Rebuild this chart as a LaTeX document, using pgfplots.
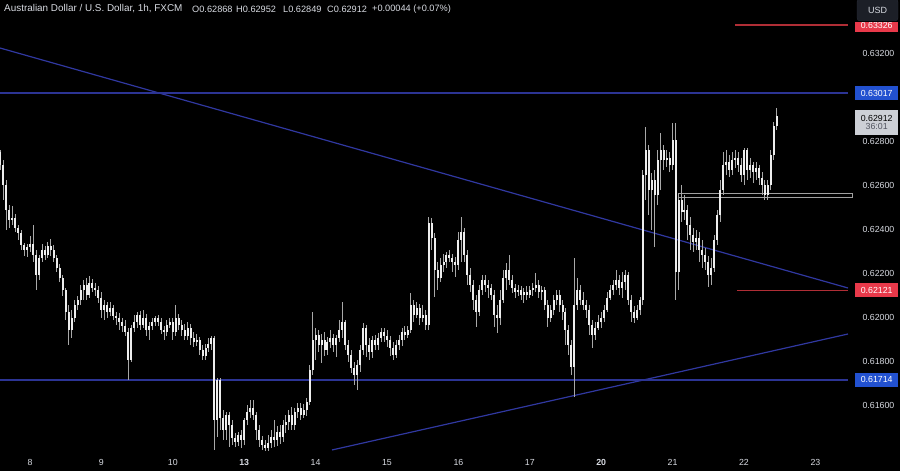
\documentclass[border=0pt]{standalone}
\usepackage{fontspec}
\setmainfont{Liberation Sans}
\usepackage{pgfplots}
\usepackage{pgfplotstable}
\pgfplotsset{compat=1.18}
\definecolor{bg}{HTML}{000000}
\definecolor{txt}{HTML}{D8DBE2}
\definecolor{lineblue}{HTML}{3038A0}
\definecolor{hlineblue}{HTML}{2C3494}
\definecolor{lblblue}{HTML}{2251D0}
\definecolor{linered}{HTML}{B02E36}
\definecolor{lblred}{HTML}{E8394A}
\definecolor{wickc}{HTML}{A8A8A8}
\definecolor{bodyc}{HTML}{EDEDED}
\definecolor{zone}{HTML}{A0A0A0}
\definecolor{curlbl}{HTML}{CDD0D6}
\definecolor{usdbox}{HTML}{1C1F27}
\definecolor{usdborder}{HTML}{2A2E39}
\definecolor{cdtxt}{HTML}{50535E}
\pgfplotstableread{
i o h l c
-10 0.62750 0.62759 0.62668 0.62691
-9 0.62691 0.62714 0.62532 0.62600
-8 0.62600 0.62623 0.62396 0.62487
-7 0.62487 0.62509 0.62405 0.62441
-6 0.62441 0.62505 0.62418 0.62450
-5 0.62450 0.62468 0.62387 0.62405
-4 0.62405 0.62418 0.62350 0.62382
-3 0.62382 0.62396 0.62305 0.62327
-2 0.62327 0.62337 0.62277 0.62305
-1 0.62305 0.62332 0.62273 0.62318
0 0.62318 0.62368 0.62296 0.62332
1 0.62332 0.62418 0.62250 0.62282
2 0.62282 0.62305 0.62123 0.62191
3 0.62191 0.62282 0.62168 0.62268
4 0.62268 0.62332 0.62250 0.62305
5 0.62305 0.62323 0.62259 0.62282
6 0.62282 0.62341 0.62268 0.62323
7 0.62323 0.62355 0.62277 0.62305
8 0.62305 0.62327 0.62250 0.62268
9 0.62268 0.62282 0.62205 0.62223
10 0.62223 0.62241 0.62159 0.62177
11 0.62177 0.62191 0.62096 0.62123
12 0.62123 0.62132 0.61987 0.62023
13 0.62023 0.62055 0.61873 0.61941
14 0.61941 0.62032 0.61905 0.61996
15 0.61996 0.62078 0.61977 0.62055
16 0.62055 0.62096 0.62032 0.62078
17 0.62078 0.62146 0.62055 0.62123
18 0.62123 0.62168 0.62078 0.62146
19 0.62146 0.62177 0.62078 0.62100
20 0.62100 0.62187 0.62087 0.62155
21 0.62155 0.62173 0.62114 0.62132
22 0.62132 0.62155 0.62096 0.62123
23 0.62123 0.62141 0.62064 0.62087
24 0.62087 0.62114 0.61996 0.62032
25 0.62032 0.62078 0.61987 0.62055
26 0.62055 0.62068 0.61996 0.62023
27 0.62023 0.62068 0.62005 0.62041
28 0.62041 0.62055 0.61987 0.62005
29 0.62005 0.62023 0.61964 0.61996
30 0.61996 0.62018 0.61941 0.61977
31 0.61977 0.61996 0.61932 0.61959
32 0.61959 0.61987 0.61914 0.61932
33 0.61932 0.61950 0.61714 0.61805
34 0.61805 0.61964 0.61796 0.61950
35 0.61950 0.62009 0.61932 0.61977
36 0.61977 0.62023 0.61950 0.62009
37 0.62009 0.62028 0.61941 0.61964
38 0.61964 0.62032 0.61950 0.61996
39 0.61996 0.62014 0.61914 0.61941
40 0.61941 0.61977 0.61896 0.61959
41 0.61959 0.61996 0.61941 0.61977
42 0.61977 0.62005 0.61959 0.61996
43 0.61996 0.62009 0.61959 0.61977
44 0.61977 0.61996 0.61923 0.61941
45 0.61941 0.61959 0.61896 0.61932
46 0.61932 0.61987 0.61914 0.61964
47 0.61964 0.61996 0.61950 0.61977
48 0.61977 0.61996 0.61896 0.61932
49 0.61932 0.62055 0.61914 0.61996
50 0.61996 0.62014 0.61941 0.61964
51 0.61964 0.61987 0.61914 0.61941
52 0.61941 0.61968 0.61896 0.61914
53 0.61914 0.61977 0.61896 0.61950
54 0.61950 0.61968 0.61873 0.61905
55 0.61905 0.61932 0.61864 0.61887
56 0.61887 0.61923 0.61868 0.61896
57 0.61896 0.61909 0.61828 0.61850
58 0.61850 0.61873 0.61805 0.61823
59 0.61823 0.61877 0.61805 0.61859
60 0.61859 0.61905 0.61841 0.61877
61 0.61877 0.61914 0.61850 0.61905
62 0.61905 0.61914 0.61396 0.61532
63 0.61532 0.61723 0.61455 0.61714
64 0.61714 0.61723 0.61487 0.61541
65 0.61541 0.61577 0.61441 0.61487
66 0.61487 0.61568 0.61441 0.61555
67 0.61555 0.61568 0.61409 0.61509
68 0.61509 0.61532 0.61418 0.61450
69 0.61450 0.61473 0.61409 0.61432
70 0.61432 0.61477 0.61414 0.61464
71 0.61464 0.61487 0.61405 0.61441
72 0.61441 0.61541 0.61418 0.61532
73 0.61532 0.61600 0.61509 0.61568
74 0.61568 0.61623 0.61541 0.61587
75 0.61587 0.61623 0.61532 0.61555
76 0.61555 0.61568 0.61441 0.61487
77 0.61487 0.61509 0.61409 0.61441
78 0.61441 0.61459 0.61396 0.61418
79 0.61418 0.61441 0.61391 0.61405
80 0.61405 0.61464 0.61391 0.61427
81 0.61427 0.61487 0.61405 0.61455
82 0.61455 0.61532 0.61409 0.61441
83 0.61441 0.61505 0.61414 0.61477
84 0.61477 0.61509 0.61423 0.61455
85 0.61455 0.61532 0.61432 0.61509
86 0.61509 0.61555 0.61473 0.61523
87 0.61523 0.61577 0.61487 0.61555
88 0.61555 0.61591 0.61487 0.61509
89 0.61509 0.61587 0.61487 0.61568
90 0.61568 0.61609 0.61541 0.61587
91 0.61587 0.61609 0.61532 0.61555
92 0.61555 0.61605 0.61541 0.61577
93 0.61577 0.61632 0.61550 0.61614
94 0.61614 0.61782 0.61600 0.61759
95 0.61759 0.62023 0.61737 0.61896
96 0.61896 0.61950 0.61805 0.61918
97 0.61918 0.61941 0.61841 0.61873
98 0.61873 0.61923 0.61791 0.61896
99 0.61896 0.61932 0.61823 0.61850
100 0.61850 0.61909 0.61828 0.61887
101 0.61887 0.61941 0.61859 0.61905
102 0.61905 0.61923 0.61841 0.61873
103 0.61873 0.61918 0.61818 0.61905
104 0.61905 0.61987 0.61887 0.61941
105 0.61941 0.62068 0.61905 0.61977
106 0.61977 0.61987 0.61850 0.61873
107 0.61873 0.61896 0.61796 0.61828
108 0.61828 0.61850 0.61746 0.61768
109 0.61768 0.61796 0.61691 0.61737
110 0.61737 0.61805 0.61668 0.61782
111 0.61782 0.61873 0.61750 0.61850
112 0.61850 0.61973 0.61828 0.61950
113 0.61950 0.61964 0.61818 0.61873
114 0.61873 0.61905 0.61805 0.61841
115 0.61841 0.61914 0.61814 0.61896
116 0.61896 0.61918 0.61850 0.61873
117 0.61873 0.61927 0.61850 0.61905
118 0.61905 0.61950 0.61887 0.61932
119 0.61932 0.61950 0.61887 0.61914
120 0.61914 0.61941 0.61864 0.61896
121 0.61896 0.61914 0.61823 0.61859
122 0.61859 0.61887 0.61805 0.61828
123 0.61828 0.61896 0.61814 0.61873
124 0.61873 0.61918 0.61850 0.61896
125 0.61896 0.61950 0.61868 0.61932
126 0.61932 0.61959 0.61896 0.61918
127 0.61918 0.61959 0.61905 0.61941
128 0.61941 0.62109 0.61927 0.62055
129 0.62055 0.62078 0.61977 0.62009
130 0.62009 0.62068 0.61996 0.62041
131 0.62041 0.62059 0.61964 0.61996
132 0.61996 0.62055 0.61977 0.62009
133 0.62009 0.62032 0.61941 0.61964
134 0.61964 0.62455 0.61941 0.62427
135 0.62427 0.62450 0.62305 0.62359
136 0.62359 0.62382 0.62091 0.62214
137 0.62214 0.62250 0.62123 0.62177
138 0.62177 0.62268 0.62159 0.62237
139 0.62237 0.62287 0.62205 0.62250
140 0.62250 0.62296 0.62223 0.62282
141 0.62282 0.62305 0.62250 0.62268
142 0.62268 0.62287 0.62205 0.62250
143 0.62250 0.62273 0.62182 0.62237
144 0.62237 0.62387 0.62214 0.62350
145 0.62350 0.62455 0.62250 0.62387
146 0.62387 0.62405 0.62250 0.62282
147 0.62282 0.62305 0.62146 0.62191
148 0.62191 0.62223 0.62114 0.62146
149 0.62146 0.62168 0.62032 0.62078
150 0.62078 0.62100 0.61955 0.62023
151 0.62023 0.62146 0.62005 0.62123
152 0.62123 0.62191 0.62100 0.62168
153 0.62168 0.62191 0.62114 0.62146
154 0.62146 0.62168 0.62087 0.62132
155 0.62132 0.62150 0.62078 0.62100
156 0.62100 0.62123 0.61955 0.62009
157 0.62009 0.62055 0.61927 0.61996
158 0.61996 0.62123 0.61964 0.62078
159 0.62078 0.62214 0.62064 0.62177
160 0.62177 0.62246 0.62123 0.62214
161 0.62214 0.62282 0.62146 0.62168
162 0.62168 0.62191 0.62109 0.62132
163 0.62132 0.62150 0.62087 0.62114
164 0.62114 0.62146 0.62096 0.62123
165 0.62123 0.62141 0.62078 0.62100
166 0.62100 0.62132 0.62064 0.62114
167 0.62114 0.62141 0.62078 0.62100
168 0.62100 0.62141 0.62087 0.62123
169 0.62123 0.62155 0.62096 0.62132
170 0.62132 0.62200 0.62114 0.62146
171 0.62146 0.62168 0.62087 0.62114
172 0.62114 0.62141 0.62078 0.62123
173 0.62123 0.62137 0.62032 0.62055
174 0.62055 0.62078 0.61955 0.61996
175 0.61996 0.62055 0.61977 0.62032
176 0.62032 0.62100 0.62009 0.62078
177 0.62078 0.62123 0.62055 0.62100
178 0.62100 0.62123 0.62023 0.62055
179 0.62055 0.62078 0.61987 0.62023
180 0.62023 0.62041 0.61873 0.61941
181 0.61941 0.61964 0.61828 0.61873
182 0.61873 0.61896 0.61737 0.61773
183 0.61773 0.62268 0.61637 0.62055
184 0.62055 0.62177 0.62032 0.62123
185 0.62123 0.62146 0.62055 0.62078
186 0.62078 0.62114 0.62032 0.62055
187 0.62055 0.62078 0.61996 0.62032
188 0.62032 0.62055 0.61918 0.61964
189 0.61964 0.61987 0.61859 0.61918
190 0.61918 0.61977 0.61896 0.61950
191 0.61950 0.62009 0.61941 0.61977
192 0.61977 0.62023 0.61950 0.61996
193 0.61996 0.62055 0.61977 0.62032
194 0.62032 0.62114 0.62023 0.62087
195 0.62087 0.62146 0.62078 0.62123
196 0.62123 0.62168 0.62100 0.62146
197 0.62146 0.62214 0.62123 0.62168
198 0.62168 0.62191 0.62100 0.62132
199 0.62132 0.62205 0.62087 0.62159
200 0.62159 0.62214 0.62123 0.62191
201 0.62191 0.62205 0.62055 0.62078
202 0.62078 0.62100 0.61977 0.62023
203 0.62023 0.62050 0.61973 0.61996
204 0.61996 0.62055 0.61987 0.62032
205 0.62032 0.62091 0.62009 0.62078
206 0.62078 0.62668 0.62055 0.62646
207 0.62646 0.62864 0.62532 0.62759
208 0.62759 0.62782 0.62464 0.62577
209 0.62577 0.62655 0.62396 0.62623
210 0.62623 0.62668 0.62318 0.62555
211 0.62555 0.62759 0.62509 0.62714
212 0.62714 0.62837 0.62577 0.62759
213 0.62759 0.62782 0.62668 0.62714
214 0.62714 0.62759 0.62682 0.62723
215 0.62723 0.62750 0.62659 0.62691
216 0.62691 0.62882 0.62668 0.62805
217 0.62805 0.62882 0.62078 0.62205
218 0.62205 0.62564 0.62123 0.62532
219 0.62532 0.62600 0.62432 0.62477
220 0.62477 0.62555 0.62441 0.62487
221 0.62487 0.62509 0.62350 0.62418
222 0.62418 0.62455 0.62305 0.62373
223 0.62373 0.62405 0.62296 0.62341
224 0.62341 0.62396 0.62305 0.62359
225 0.62359 0.62387 0.62250 0.62305
226 0.62305 0.62350 0.62223 0.62282
227 0.62282 0.62314 0.62214 0.62250
228 0.62250 0.62277 0.62137 0.62191
229 0.62191 0.62268 0.62146 0.62223
230 0.62223 0.62373 0.62205 0.62350
231 0.62350 0.62487 0.62327 0.62464
232 0.62464 0.62623 0.62432 0.62577
233 0.62577 0.62750 0.62555 0.62691
234 0.62691 0.62759 0.62646 0.62705
235 0.62705 0.62737 0.62637 0.62668
236 0.62668 0.62750 0.62646 0.62714
237 0.62714 0.62759 0.62677 0.62723
238 0.62723 0.62750 0.62659 0.62691
239 0.62691 0.62723 0.62614 0.62646
240 0.62646 0.62768 0.62600 0.62759
241 0.62759 0.62768 0.62623 0.62668
242 0.62668 0.62723 0.62632 0.62691
243 0.62691 0.62705 0.62609 0.62659
244 0.62659 0.62705 0.62623 0.62677
245 0.62677 0.62691 0.62600 0.62632
246 0.62632 0.62659 0.62555 0.62600
247 0.62600 0.62623 0.62532 0.62555
248 0.62555 0.62623 0.62532 0.62600
249 0.62600 0.62759 0.62577 0.62737
250 0.62737 0.62886 0.62714 0.62868
251 0.62868 0.62952 0.62849 0.62912
}\candles
\begin{document}
\begin{tikzpicture}
\fill[bg] (0,0) rectangle (900pt,471pt);
\useasboundingbox (0,0) rectangle (900pt,471pt);
\begin{axis}[
  at={(0pt,16pt)}, anchor=south west,
  width=848pt, height=455pt, scale only axis,
  xmin=-10.08, xmax=274.96, ymin=0.613727, ymax=0.634409,
  clip=false,
  axis line style={draw=none},
  major tick length=0pt,
  tick style={draw=none},
  scaled y ticks=false,
  xtick={0,24,48,72,96,120,144,168,192,216,240,264},
  xticklabels={8,9,10,\textbf{13},14,15,16,17,\textbf{20},21,22,23},
  ytick={0.616,0.618,0.620,0.622,0.624,0.626,0.628,0.632},
  yticklabel pos=right,
  /pgf/number format/assume math mode=true,
  yticklabel style={/pgf/number format/.cd, fixed, fixed zerofill, precision=5, /tikz/.cd,
     font=\fontsize{8.8}{10}\selectfont, text=txt, anchor=west, xshift=11pt},
  xticklabel style={font=\fontsize{8.8}{10}\selectfont, text=txt, yshift=-1pt},
]
% trend and level lines
\addplot[lineblue, line width=1.2pt] coordinates {(-10.08,0.632227) (274.96,0.621318)};
\addplot[lineblue, line width=1.2pt] coordinates {(101.5,0.613955) (274.96,0.619227)};
\addplot[hlineblue, line width=1.6pt] coordinates {(-10.08,0.63017) (274.96,0.63017)};
\addplot[hlineblue, line width=1.6pt] coordinates {(-10.08,0.61714) (274.96,0.61714)};
\addplot[linered, line width=1.7pt] coordinates {(237.0,0.63326) (274.96,0.63326)};
\addplot[linered, line width=1.5pt] coordinates {(237.6,0.62121) (274.96,0.62121)};
\addplot[zone, line width=0.8pt] coordinates {(217.8,0.625636) (276.6,0.625636) (276.6,0.625455) (217.8,0.625455) (217.8,0.625636)};
% candles
\addplot[wickc, line width=0.7pt, quiver={u=0, v=\thisrow{h}-\thisrow{l}}] table[x=i, y=l] {\candles};
\addplot[bodyc, line width=2pt, quiver={u=0, v=\thisrow{c}-\thisrow{o}}] table[x=i, y=o] {\candles};
% price labels
\tikzset{plbl/.style={anchor=west, xshift=7pt, minimum width=43pt, minimum height=14pt, inner sep=0pt, text=white, font=\fontsize{8.8}{10}\selectfont}}
\node[plbl, fill=lblred] at (axis cs:274.96,0.63326) {0.63326};
\node[plbl, fill=lblblue] at (axis cs:274.96,0.63017) {0.63017};
\node[plbl, fill=lblred] at (axis cs:274.96,0.62121) {0.62121};
\node[plbl, fill=lblblue] at (axis cs:274.96,0.61714) {0.61714};
\node[anchor=west, xshift=7pt, minimum width=43pt, minimum height=25pt, inner sep=0pt, fill=curlbl, align=center,
  font=\fontsize{8.8}{10}\selectfont] at (axis cs:274.96,0.628841)
  {\textcolor{black}{0.62912}\\[-1.5pt]\textcolor{cdtxt}{36:01}};
\end{axis}
% USD box (covers the top of the red label, as in the reference)
\fill[bg] (855pt,449pt) rectangle (900pt,471pt);
\draw[fill=usdbox, draw=usdborder, rounded corners=3pt] (857pt,450pt) rectangle (898pt,472pt);
\node[text=txt, font=\fontsize{9}{10}\selectfont] at (877.5pt,461pt) {USD};
% header
\begin{scope}[every node/.style={anchor=west, text=txt, inner sep=0pt}]
\node[font=\fontsize{9.9}{11}\selectfont] at (4pt,462pt) {Australian Dollar / U.S. Dollar, 1h, FXCM};
\node[font=\fontsize{9.2}{11}\selectfont] at (192pt,462pt) {O0.62868};
\node[font=\fontsize{9.2}{11}\selectfont] at (236pt,462pt) {H0.62952};
\node[font=\fontsize{9.2}{11}\selectfont] at (283pt,462pt) {L0.62849};
\node[font=\fontsize{9.2}{11}\selectfont] at (327pt,462pt) {C0.62912};
\node[font=\fontsize{9.2}{11}\selectfont] at (372pt,462pt) {+0.00044 (+0.07\%)};
\end{scope}
\end{tikzpicture}
\end{document}
